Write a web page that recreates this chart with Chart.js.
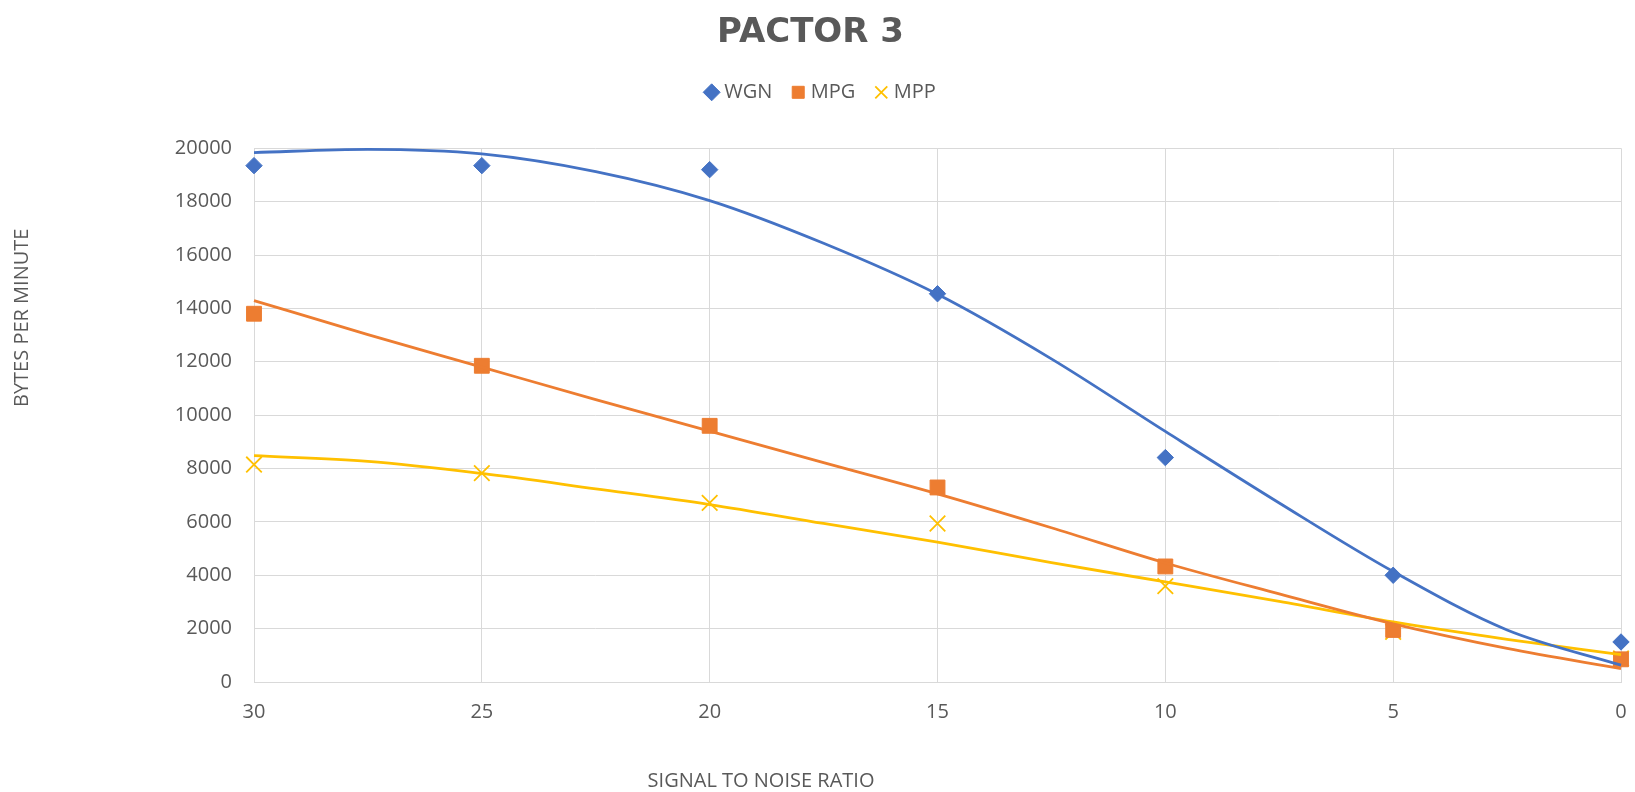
<!DOCTYPE html>
<html><head><meta charset="utf-8">
<script src="https://cdn.jsdelivr.net/npm/chart.js@4.4.1/dist/chart.umd.min.js"></script>
<style>html,body{margin:0;padding:0;background:#fff;}</style>
</head><body>
<canvas id="c" width="1635" height="792"></canvas>
<script>
// ---- data ----
const snr = [30, 25, 20, 15, 10, 5, 0];
const wgn = [19350, 19350, 19200, 14550, 8410, 4000, 1500];
const mpg = [13800, 11850, 9600, 7290, 4330, 1950, 850];
const mpp = [8150, 7830, 6710, 5940, 3590, 1880, 880];

// trendline values
const trendSnr = [30, 27.5, 25, 22.5, 20, 17.5, 15, 12.5, 10, 7.5, 5, 2.5, 0];
const wgnTrend = [19840, 19960, 19790, 19125, 18040, 16440, 14530, 12110, 9390, 6710, 4140, 1950, 630];
const mpgTrend = [14295, 13020, 11800, 10580, 9400, 8220, 7050, 5780, 4460, 3300, 2180, 1260, 500];
const mppTrend = [8480, 8270, 7815, 7240, 6650, 5940, 5240, 4470, 3750, 3020, 2250, 1600, 1030];

const yTicks = [0, 20000, 2000];   // min, max, step
const xTicks = [0, 30, 5];

const seriesNames = ['WGN', 'MPG', 'MPP'];
const titleText = 'PACTOR 3';
const xTitle = 'SIGNAL TO NOISE RATIO';
const yTitle = 'BYTES PER MINUTE';

const BLUE = '#4472C4', ORANGE = '#ED7D31', YELLOW = '#FFC000', TXT = '#595959', GRID = '#D9D9D9';

const pts = (xs, ys) => xs.map((x, i) => ({x: x, y: ys[i]}));

const legendTweak = {
  id: 'legendTweak',
  beforeInit(chart) {
    const lg = chart.legend;
    const fit = lg.fit, draw = lg.draw;
    lg.fit = function () { fit.call(lg); this.height += 36; };
    lg.draw = function () {
      const ctx = chart.ctx;
      ctx.save(); ctx.translate(12, 0); draw.call(lg); ctx.restore();
    };
  }
};

const axisTitles = {
  id: 'axisTitles',
  afterDraw(chart) {
    const ctx = chart.ctx, a = chart.chartArea;
    ctx.save();
    ctx.fillStyle = TXT;
    ctx.font = '20px "Open Sans"';
    ctx.textAlign = 'center';
    ctx.textBaseline = 'middle';
    ctx.fillText(xTitle, a.left + 0.3709 * (a.right - a.left), 781);
    ctx.translate(22.5, a.top + 0.3176 * (a.bottom - a.top));
    ctx.rotate(-Math.PI / 2);
    ctx.fillText(yTitle, 0, 0);
    ctx.restore();
  }
};

const scatterDs = (label, ys, color, style, radius, bw) => ({
  type: 'scatter', label: label, data: pts(snr, ys),
  backgroundColor: color, borderColor: color,
  pointStyle: style, pointRadius: radius, pointHoverRadius: radius,
  pointBorderWidth: bw, borderWidth: bw,
  pointBackgroundColor: color, pointBorderColor: color,
  showLine: false, clip: false, order: 2
});
const trendDs = (label, ys, color) => ({
  type: 'scatter', label: label, data: pts(trendSnr, ys),
  borderColor: color, backgroundColor: color, borderWidth: 2.8,
  pointRadius: 0, pointHoverRadius: 0, showLine: true,
  cubicInterpolationMode: 'monotone', clip: false, order: 1
});

new Chart(document.getElementById('c'), {
  type: 'scatter',
  data: {
    datasets: [
      scatterDs(seriesNames[0], wgn, BLUE, 'rectRot', 8.2, 1),
      scatterDs(seriesNames[1], mpg, ORANGE, 'rect', 10.5, 1),
      scatterDs(seriesNames[2], mpp, YELLOW, 'crossRot', 11, 1.8),
      trendDs('WGN trend', wgnTrend, BLUE),
      trendDs('MPG trend', mpgTrend, ORANGE),
      trendDs('MPP trend', mppTrend, YELLOW)
    ]
  },
  plugins: [legendTweak, axisTitles],
  options: {
    responsive: false,
    devicePixelRatio: 1,
    animation: false,
    layout: {padding: {left: 0, right: 14, top: 0, bottom: 0}},
    plugins: {
      title: {
        display: true, text: titleText, color: TXT,
        font: {family: '"DejaVu Sans"', size: 34, weight: 'bold'},
        padding: {top: 13, bottom: 5}
      },
      legend: {
        display: true, position: 'top',
        labels: {
          usePointStyle: true, boxWidth: 5, boxHeight: 12, padding: 23.5,
          color: TXT, font: {family: '"Open Sans"', size: 20},
          filter: (item) => item.datasetIndex < 3
        }
      },
      tooltip: {enabled: false}
    },
    scales: {
      x: {
        type: 'linear', reverse: true,
        min: xTicks[0], max: xTicks[1],
        ticks: {stepSize: xTicks[2], color: TXT, font: {family: '"Open Sans"', size: 20}, padding: 18,
                callback: (v) => String(v)},
        grid: {color: GRID, lineWidth: 1, drawTicks: false},
        border: {color: GRID},
        afterFit: (s) => { s.height = 110; s.paddingLeft = 0; s.paddingRight = 0; }
      },
      y: {
        type: 'linear',
        min: yTicks[0], max: yTicks[1],
        ticks: {stepSize: yTicks[2], color: TXT, font: {family: '"Open Sans"', size: 20}, padding: 22,
                callback: (v) => String(v)},
        grid: {color: GRID, lineWidth: 1, drawTicks: false},
        border: {display: false},
        afterFit: (s) => { s.width = 254; }
      }
    }
  }
});
</script>
</body></html>
